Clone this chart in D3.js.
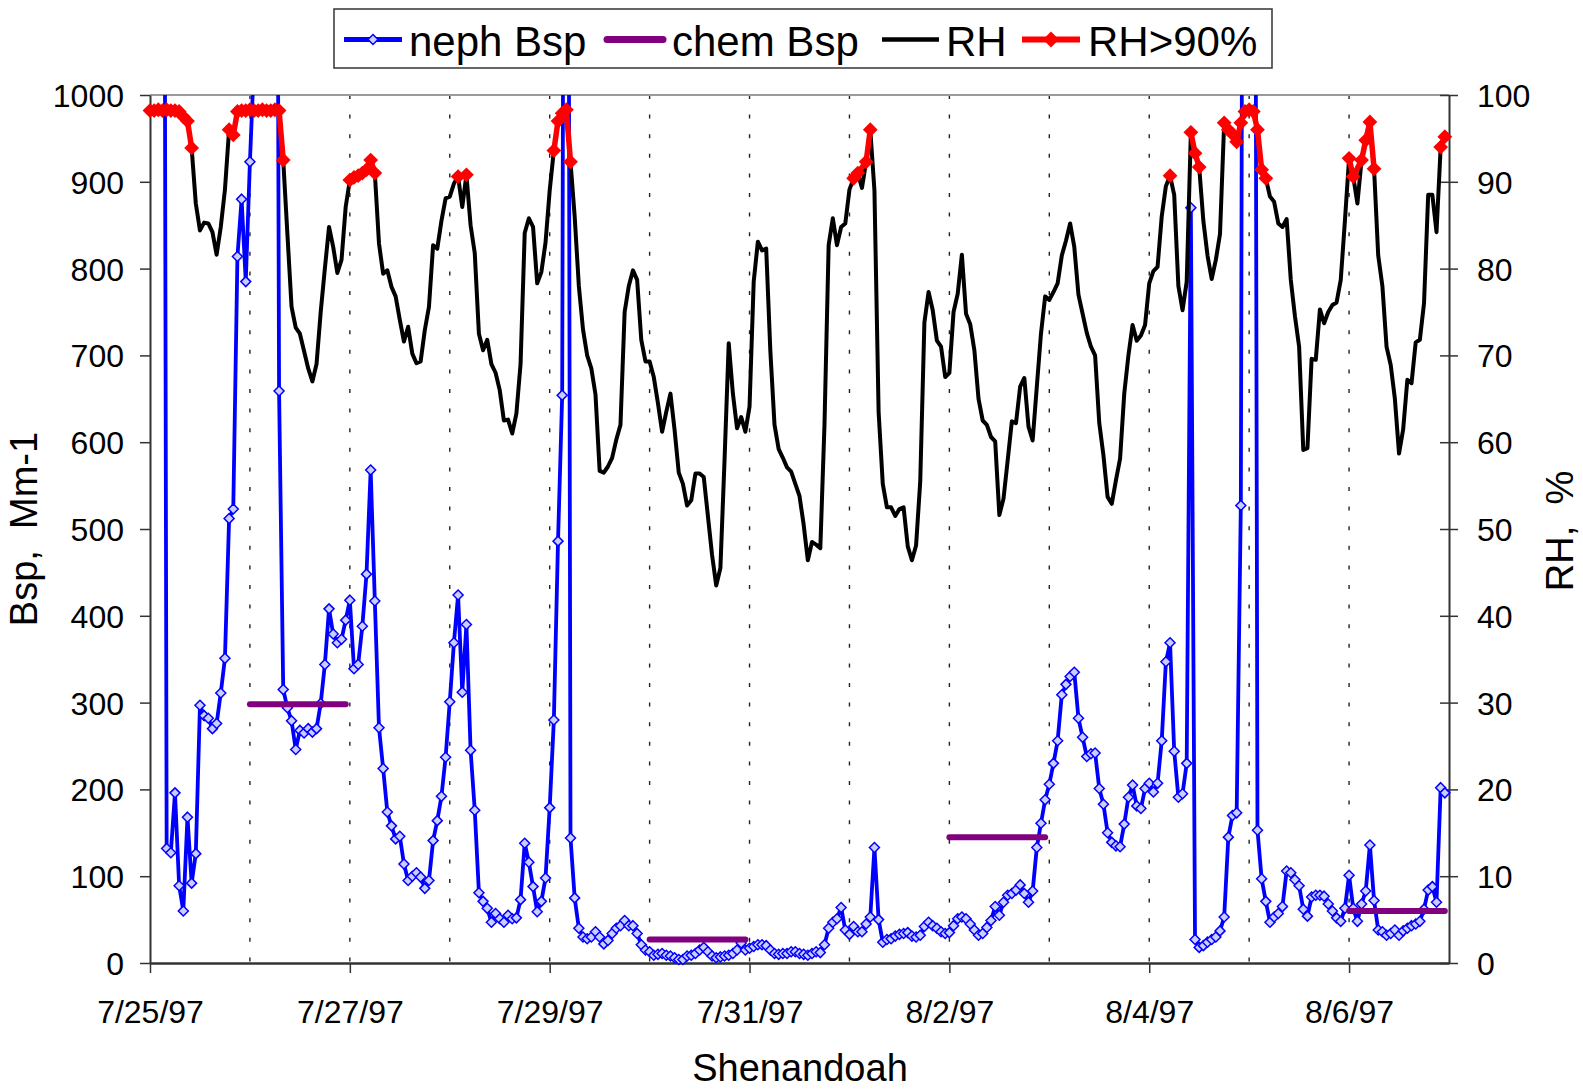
<!DOCTYPE html>
<html>
<head>
<meta charset="utf-8">
<script src="https://cdn.jsdelivr.net/npm/d3@7"></script>
<style>
html, body { margin: 0; padding: 0; background: #ffffff; }
svg { display: block; }
</style>
</head>
<body>
<svg id="chart" width="1583" height="1089"></svg>
<script>
// ---------------- DATA ----------------
// hourly observations starting 7/25/97 00:00
const startDate = new Date(1997, 6, 25, 0, 0);
const endDate = new Date(1997, 7, 7, 0, 0);

// neph Bsp (Mm-1), hourly
const nephBsp = [
  1500, 1800, 2100, 2300,
  132, 127, 196, 89, 60, 168, 92, 126, 297, 285, 282, 270, 276, 311, 351, 512, 523, 814, 880, 785, 923,
  1040, 1600, 2200, 2500, 2400, 2200,
  659, 315, 294, 279, 246, 268, 265, 270, 266, 270, 299, 344, 408, 379, 369, 373, 395, 418, 339, 344, 388, 448, 568, 417,
  271, 224, 174, 158, 143, 146, 114, 95, 100, 104, 99, 86, 95, 141, 164, 192, 237, 301,
  369, 424, 312, 390, 245, 176, 81, 71, 63, 47, 57, 51, 47, 55, 51, 52, 73, 138, 116, 88, 59, 71, 98, 179, 280, 486, 654,
  2500,
  144, 75, 40, 30, 28, 30, 36, 30, 22, 26,
  34, 40, 43, 49, 43, 43, 34, 21, 15, 13,
  9, 10, 11, 9, 8, 6, 4, 4, 8, 9,
  11, 15, 18, 13, 8, 6, 7, 8, 9, 11,
  15, 23, 15, 17, 19, 21, 21, 20, 15, 11,
  10, 11, 11, 13, 13, 11, 10, 9, 11, 13,
  12, 21, 40, 47, 51, 64, 38, 33, 42, 36,
  36, 45, 53, 133, 50, 24, 27, 28, 31, 33,
  34, 35, 31, 30, 32, 42, 47, 43, 40, 36,
  34, 35, 43, 51,
  53, 51, 45, 38, 32, 34, 41, 49, 65, 55,
  70, 78, 80, 84, 90, 80, 70, 83, 133, 161,
  188, 206, 230, 256, 309, 321, 330, 335, 282, 260,
  238, 241, 242, 201, 183, 150, 139, 135, 134, 160,
  191, 205, 181, 178, 201, 207, 197, 207, 256, 347,
  369, 244, 191, 195, 230, 870, 27, 18, 20, 24,
  27, 30, 37, 53, 145, 170, 173, 527,
  2500, 3000, 2350,
  153, 97, 71, 47, 53, 57, 65, 106, 104, 96,
  89, 62, 54, 76, 78, 78, 77, 68, 60, 52,
  48, 63, 101, 63, 48, 68, 83, 136, 72, 38,
  36, 32, 34, 38, 32, 37, 40, 43, 45, 48,
  62, 84, 88, 70, 202, 196
];

// RH (%), hourly
const rhValues = [
  98.2, 98.2, 98.3, 98.2, 98.3, 98.2, 98.2, 98.1, 97.5, 97.0,
  93.9, 87.5, 84.4, 85.3, 85.2, 84.2, 81.6, 84.8, 89.1, 96.0,
  95.4, 98.1, 98.2, 98.2, 98.3, 98.2, 98.2, 98.3, 98.2, 98.2,
  98.3, 98.2, 92.5, 84.0, 75.6, 73.2, 72.5, 70.5, 68.5, 67.0,
  69.0, 75.0, 80.0, 84.8, 82.5, 79.5, 81.0, 87.1, 90.2, 90.5,
  90.7, 91.0, 91.4, 92.5, 91.0, 82.9, 79.4, 79.8, 77.9, 76.8,
  74.1, 71.6, 73.3, 70.2, 69.1, 69.3, 72.9, 75.6, 82.7, 82.3,
  85.5, 88.1, 88.3, 89.8, 90.6, 87.1, 90.8, 85.0, 81.8, 72.5,
  70.6, 71.8, 69.0, 68.0, 66.0, 62.5, 62.6, 61.0, 63.3, 69.0,
  84.1, 85.8, 84.8, 78.3, 79.6, 83.0, 89.0, 93.6, 97.0, 97.9,
  98.3, 92.3, 86.0, 78.0, 73.0, 70.0, 68.5, 65.5, 56.7, 56.5,
  57.2, 58.2, 60.3, 62.0, 75.0, 78.0, 79.8, 78.7, 71.8, 69.3,
  69.3, 67.5, 64.5, 61.2, 63.5, 65.6, 61.4, 56.5, 55.2, 52.7,
  53.3, 56.4, 56.4, 56.0, 51.5, 47.0, 43.5, 45.5, 58.0, 71.4,
  65.6, 61.6, 62.9, 61.2, 64.1, 78.5, 83.1, 82.1, 82.3, 70.5,
  62.0, 59.2, 58.2, 57.1, 56.6, 55.2, 53.8, 50.5, 46.4, 48.5,
  48.2, 47.8, 62.0, 82.7, 85.8, 82.7, 84.8, 85.2, 89.1, 90.4,
  91.0, 89.3, 92.3, 96.0, 89.0, 63.5, 55.2, 52.5, 52.5, 51.5,
  52.3, 52.5, 48.0, 46.4, 48.1, 55.5, 73.8, 77.3, 75.2, 71.7,
  71.0, 67.5, 68.0, 75.0, 77.1, 81.6, 74.8, 73.6, 70.6, 65.0,
  62.5, 62.0, 60.6, 60.1, 51.6, 53.5, 57.9, 62.4, 62.2, 66.4,
  67.4, 61.8, 60.2, 66.4, 72.5, 76.8, 76.4, 77.3, 78.3, 81.5,
  83.2, 85.2, 82.5, 77.0, 74.8, 72.6, 71.0, 70.0, 62.2, 58.5,
  53.7, 52.9, 55.6, 58.1, 65.6, 70.0, 73.5, 71.7, 72.3, 73.5,
  78.3, 79.7, 80.2, 86.0, 89.5, 90.7, 88.5, 78.0, 75.2, 78.5,
  95.7, 93.3, 91.7, 85.5, 81.5, 78.8, 81.0, 84.0, 96.8, 96.0,
  95.5, 94.6, 96.8, 98.1, 98.3, 98.1, 96.0, 91.4, 90.4, 88.3,
  87.7, 85.2, 84.8, 85.7, 78.7, 74.5, 71.0, 59.1, 59.3, 69.6,
  69.5, 75.3, 73.7, 75.0, 75.8, 76.1, 78.7, 85.5, 92.7, 90.6,
  87.5, 92.5, 94.8, 96.9, 91.5, 81.5, 78.0, 71.0, 68.9, 65.0,
  58.7, 61.5, 67.2, 66.8, 71.5, 71.8, 76.0, 88.5, 88.5, 84.2,
  94.0, 95.2
];
const rhThreshold = 90;

// chem Bsp: one daily value per sampled day
const chemDays = ["7/26/97", "7/30/97", "8/2/97", "8/6/97"];
const chemValues = [298, 27, 145, 60];

// tick labels
const xTickLabels = ["7/25/97", "7/27/97", "7/29/97", "7/31/97", "8/2/97", "8/4/97", "8/6/97"];
const leftTicks = [0, 100, 200, 300, 400, 500, 600, 700, 800, 900, 1000];
const rightTicks = [0, 10, 20, 30, 40, 50, 60, 70, 80, 90, 100];

const legendLabels = ["neph Bsp", "chem Bsp", "RH", "RH>90%"];

// ---------------- CHART ----------------
const FONT = "'Liberation Sans', Arial, Helvetica, sans-serif";
const parseDay = d3.timeParse("%m/%d/%y");
const svg = d3.select("#chart");
const M = { left: 150, right: 1449, top: 95, bottom: 963 };

const x = d3.scaleTime().domain([startDate, endDate]).range([M.left, M.right]);
const yL = d3.scaleLinear().domain([0, 1000]).range([M.bottom, M.top]);
const yR = d3.scaleLinear().domain([0, 100]).range([M.bottom, M.top]);

svg.append("rect").attr("width", 1583).attr("height", 1089).attr("fill", "#ffffff");

// clip for neph
svg.append("clipPath").attr("id", "plotClip").append("rect")
  .attr("x", M.left - 12).attr("y", M.top)
  .attr("width", M.right - M.left + 24).attr("height", M.bottom - M.top + 12);

// dashed day gridlines
const days = d3.timeDay.range(d3.timeDay.offset(startDate, 1), endDate);
svg.append("g").selectAll("line").data(days).join("line")
  .attr("x1", d => x(d)).attr("x2", d => x(d))
  .attr("y1", M.top).attr("y2", M.bottom)
  .attr("stroke", "#222").attr("stroke-width", 1.4)
  .attr("stroke-dasharray", "4,15.6");

// top border
svg.append("line").attr("x1", M.left).attr("x2", M.right).attr("y1", M.top).attr("y2", M.top)
  .attr("stroke", "#9a9a9a").attr("stroke-width", 2);

// left axis
const gL = svg.append("g").attr("transform", `translate(${M.left},0)`)
  .call(d3.axisLeft(yL).tickValues(leftTicks).tickSize(10).tickSizeOuter(0).tickPadding(16).tickFormat(d3.format("d")));
gL.attr("font-size", 32).attr("font-family", FONT);
gL.select(".domain").attr("stroke", "#333").attr("stroke-width", 2);
gL.selectAll(".tick line").attr("stroke", "#333").attr("stroke-width", 1.5);
gL.selectAll(".tick text").attr("fill", "#000").attr("dy", "0.36em");

// right axis
const gR = svg.append("g").attr("transform", `translate(${M.right},0)`)
  .call(d3.axisRight(yR).tickValues(rightTicks).tickSize(9).tickSizeOuter(0).tickPadding(19).tickFormat(d3.format("d")));
gR.attr("font-size", 32).attr("font-family", FONT);
gR.select(".domain").attr("stroke", "#333").attr("stroke-width", 2);
gR.selectAll(".tick line").attr("x1", -9).attr("stroke", "#333").attr("stroke-width", 1.5);
gR.selectAll(".tick text").attr("fill", "#000").attr("dy", "0.36em");

// bottom axis
const xTickDates = xTickLabels.map(parseDay);
const gB = svg.append("g").attr("transform", `translate(0,${M.bottom})`)
  .call(d3.axisBottom(x).tickValues(xTickDates).tickSize(10).tickSizeOuter(0).tickPadding(27)
    .tickFormat((d, i) => xTickLabels[i]));
gB.attr("font-size", 32).attr("font-family", FONT);
gB.select(".domain").attr("stroke", "#333").attr("stroke-width", 2.5);
gB.selectAll(".tick line").attr("stroke", "#333").attr("stroke-width", 1.5);
gB.selectAll(".tick text").attr("fill", "#000");

// diamond path
const diamond = r => `M0,${-r}L${r},0L0,${r}L${-r},0Z`;

// neph Bsp
const nephData = nephBsp.map((v, i) => ({ t: d3.timeHour.offset(startDate, i), v }));
const gN = svg.append("g").attr("clip-path", "url(#plotClip)");
gN.append("path").datum(nephData)
  .attr("d", d3.line().x(d => x(d.t)).y(d => yL(d.v)))
  .attr("fill", "none").attr("stroke", "#0000ff").attr("stroke-width", 3.8)
  .attr("stroke-linejoin", "round");
gN.selectAll("path.mk").data(nephData.filter(d => d.v <= 1000)).join("path")
  .attr("class", "mk")
  .attr("transform", d => `translate(${x(d.t)},${yL(d.v)})`)
  .attr("d", diamond(5))
  .attr("fill", "#ccccff").attr("stroke", "#0000ff").attr("stroke-width", 1.5);

// chem Bsp
const chemData = chemDays.map((s, i) => {
  const d0 = parseDay(s);
  return [{ t: d0, v: chemValues[i] }, { t: d3.timeHour.offset(d0, 23), v: chemValues[i] }];
});
svg.append("g").selectAll("path").data(chemData).join("path")
  .attr("d", d3.line().x(d => x(d.t)).y(d => yL(d.v)))
  .attr("fill", "none").attr("stroke", "#800080").attr("stroke-width", 6)
  .attr("stroke-linecap", "round");

// RH
const rhData = rhValues.map((v, i) => ({ i, t: d3.timeHour.offset(startDate, i), v }));
svg.append("path").datum(rhData)
  .attr("d", d3.line().x(d => x(d.t)).y(d => yR(d.v)))
  .attr("fill", "none").attr("stroke", "#000").attr("stroke-width", 4)
  .attr("stroke-linejoin", "round");

// RH > 90%
const hi = rhData.filter(d => d.v > rhThreshold);
const segs = [];
hi.forEach(d => {
  const last = segs.length ? segs[segs.length - 1] : null;
  if (last && d.i - last[last.length - 1].i <= 2) last.push(d);
  else segs.push([d]);
});
const gH = svg.append("g");
gH.selectAll("path.seg").data(segs).join("path")
  .attr("class", "seg")
  .attr("d", d3.line().x(d => x(d.t)).y(d => yR(d.v)))
  .attr("fill", "none").attr("stroke", "#ff0000").attr("stroke-width", 5.5)
  .attr("stroke-linejoin", "round");
gH.selectAll("path.mk").data(hi).join("path")
  .attr("class", "mk")
  .attr("transform", d => `translate(${x(d.t)},${yR(d.v)})`)
  .attr("d", diamond(7.4))
  .attr("fill", "#ff0000");

// axis titles
svg.append("text").attr("transform", "translate(37,529) rotate(-90)")
  .attr("text-anchor", "middle").attr("font-family", FONT).attr("font-size", 38)
  .style("white-space", "pre").text("Bsp,  Mm-1");
svg.append("text").attr("transform", "translate(1573,531) rotate(-90)")
  .attr("text-anchor", "middle").attr("font-family", FONT).attr("font-size", 38)
  .style("white-space", "pre").text("RH,  %");
svg.append("text").attr("x", 800).attr("y", 1081)
  .attr("text-anchor", "middle").attr("font-family", FONT).attr("font-size", 38)
  .text("Shenandoah");

// legend
const lg = svg.append("g");
lg.append("rect").attr("x", 334).attr("y", 9).attr("width", 938).attr("height", 59)
  .attr("fill", "#fff").attr("stroke", "#404040").attr("stroke-width", 1.6);
const ly = 39.5;
const legendItems = [
  { x0: 344, x1: 402, color: "#0000ff", w: 5, marker: "neph", tx: 409 },
  { x0: 607, x1: 663, color: "#800080", w: 7, marker: null, tx: 672 },
  { x0: 882, x1: 939, color: "#000000", w: 4.5, marker: null, tx: 946 },
  { x0: 1022, x1: 1080, color: "#ff0000", w: 6, marker: "red", tx: 1088 }
];
legendItems.forEach((it, i) => {
  lg.append("line").attr("x1", it.x0).attr("x2", it.x1).attr("y1", ly).attr("y2", ly)
    .attr("stroke", it.color).attr("stroke-width", it.w)
    .attr("stroke-linecap", i === 1 ? "round" : "butt");
  if (it.marker === "neph") {
    lg.append("path").attr("transform", `translate(${(it.x0 + it.x1) / 2},${ly})`)
      .attr("d", diamond(5)).attr("fill", "#ccccff").attr("stroke", "#0000ff").attr("stroke-width", 1.5);
  } else if (it.marker === "red") {
    lg.append("path").attr("transform", `translate(${(it.x0 + it.x1) / 2},${ly})`)
      .attr("d", diamond(8)).attr("fill", "#ff0000");
  }
  lg.append("text").attr("x", it.tx).attr("y", 55.5)
    .attr("font-family", FONT).attr("font-size", 42).attr("fill", "#000")
    .text(legendLabels[i]);
});
</script>
</body>
</html>
